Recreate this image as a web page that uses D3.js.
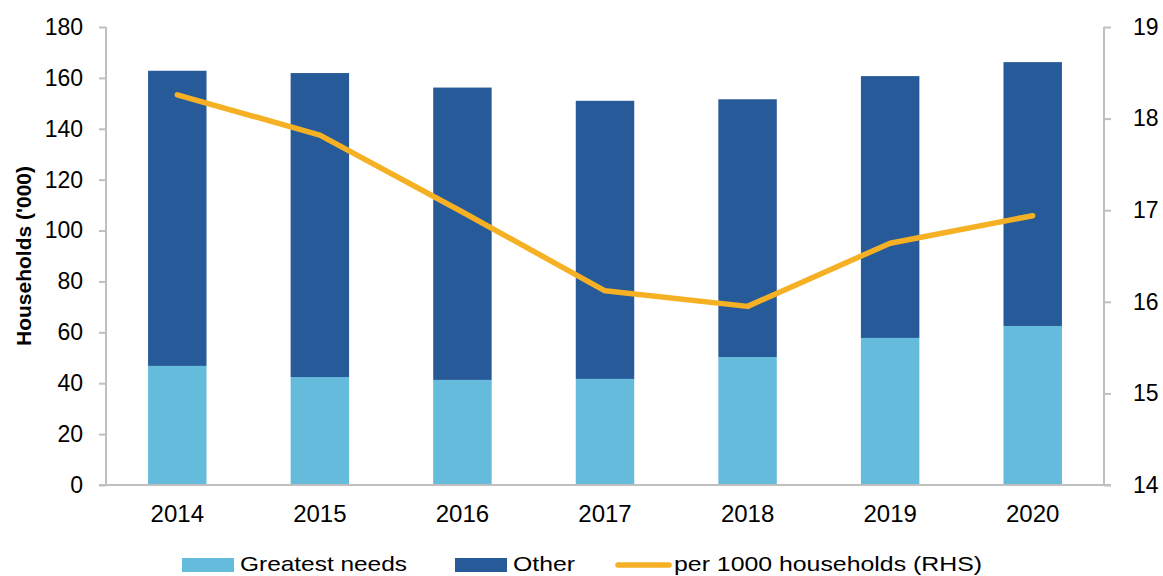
<!DOCTYPE html>
<html>
<head>
<meta charset="utf-8">
<script src="https://cdn.jsdelivr.net/npm/d3@7"></script>
<style>
  body { margin: 0; background: #fff; }
  text { font-family: "Liberation Sans", Arial, sans-serif; fill: #000; }
</style>
</head>
<body>
<div id="chart"></div>
<script>
// Data
const years = ["2014", "2015", "2016", "2017", "2018", "2019", "2020"];
const greatestNeeds = [46.8, 42.4, 41.3, 41.7, 50.3, 57.8, 62.5];
const totals = [162.8, 161.9, 156.2, 151.0, 151.6, 160.7, 166.2];
const other = totals.map((t, i) => t - greatestNeeds[i]);
const per1000 = [18.26, 17.82, 16.98, 16.12, 15.95, 16.64, 16.94];
const leftTicks = [0, 20, 40, 60, 80, 100, 120, 140, 160, 180];
const rightTicks = [14, 15, 16, 17, 18, 19];

const width = 1163;
const height = 576;
const margin = { top: 27, right: 59, bottom: 91, left: 106 };

const svg = d3
  .select("#chart")
  .append("svg")
  .attr("width", width)
  .attr("height", height);

const x = d3
  .scaleBand()
  .domain(years)
  .range([margin.left, width - margin.right])
  .padding(0);

const y = d3
  .scaleLinear()
  .domain([0, 180])
  .range([height - margin.bottom, margin.top]);

const y2 = d3
  .scaleLinear()
  .domain([14, 19])
  .range([height - margin.bottom, margin.top]);

const barW = x.bandwidth() * 0.41;
const cx = (d) => x(d) + x.bandwidth() / 2;

// Stacked bars
const stackData = years.map((yr, i) => ({
  year: yr,
  greatest: greatestNeeds[i],
  other: other[i],
}));
const series = d3.stack().keys(["greatest", "other"])(stackData);
const colors = { greatest: "#65bbdb", other: "#275a98" };

svg
  .selectAll("g.layer")
  .data(series)
  .enter()
  .append("g")
  .attr("class", "layer")
  .attr("fill", (s) => colors[s.key])
  .selectAll("rect")
  .data((s) => s)
  .enter()
  .append("rect")
  .attr("x", (d) => cx(d.data.year) - barW / 2)
  .attr("width", barW)
  .attr("y", (d) => y(d[1]))
  .attr("height", (d) => y(d[0]) - y(d[1]));

// Axes
const axisColor = "#bfbfbf";

const leftAxis = svg
  .append("g")
  .attr("transform", `translate(${margin.left},0)`)
  .call(d3.axisLeft(y).tickValues(leftTicks).tickSize(7).tickPadding(16));

const rightAxis = svg
  .append("g")
  .attr("transform", `translate(${width - margin.right},0)`)
  .call(
    d3.axisRight(y2).tickValues(rightTicks).tickSize(7).tickPadding(22)
      .tickFormat(d3.format("d"))
  );

const bottomAxis = svg
  .append("g")
  .attr("transform", `translate(0,${height - margin.bottom})`)
  .call(d3.axisBottom(x).tickSize(0).tickPadding(20));

[leftAxis, rightAxis, bottomAxis].forEach((g) => {
  g.selectAll("path.domain").attr("stroke", axisColor).attr("stroke-width", 2);
  g.selectAll(".tick line").attr("stroke", axisColor).attr("stroke-width", 2);
  g.selectAll(".tick text")
    .style("font-family", "'Liberation Sans', Arial, sans-serif")
    .style("font-size", "23px")
    .attr("fill", "#000");
});
bottomAxis.selectAll(".tick text").style("font-size", "24px");
leftAxis.select("path.domain").attr("d", `M0,${margin.top}V${height - margin.bottom}`);
rightAxis.select("path.domain").attr("d", `M0,${margin.top}V${height - margin.bottom}`);
bottomAxis
  .select("path.domain")
  .attr("d", `M${margin.left - 7},0H${width - margin.right + 7}`);

// Left axis title
svg
  .append("text")
  .attr("transform", `translate(31,256) rotate(-90)`)
  .attr("text-anchor", "middle")
  .style("font-size", "21px")
  .style("font-weight", "bold")
  .text("Households ('000)");

// Line on right axis
const line = d3
  .line()
  .x((d, i) => cx(years[i]))
  .y((d) => y2(d));

svg
  .append("path")
  .datum(per1000)
  .attr("d", line)
  .attr("fill", "none")
  .attr("stroke", "#f5b024")
  .attr("stroke-width", 5.5)
  .attr("stroke-linecap", "round")
  .attr("stroke-linejoin", "round");

// Legend
const legend = svg.append("g").attr("transform", "translate(0,564)");
const legendItems = [
  { label: "Greatest needs", color: colors.greatest, type: "rect", x: 182, w: 167 },
  { label: "Other", color: colors.other, type: "rect", x: 455, w: 62 },
  { label: "per 1000 households (RHS)", color: "#f5b024", type: "line", x: 616, w: 308 },
];

legendItems.forEach((it) => {
  if (it.type === "rect") {
    legend
      .append("rect")
      .attr("x", it.x)
      .attr("y", -6)
      .attr("width", 52)
      .attr("height", 14)
      .attr("fill", it.color);
  } else {
    legend
      .append("line")
      .attr("x1", it.x + 2)
      .attr("x2", it.x + 53)
      .attr("y1", 1)
      .attr("y2", 1)
      .attr("stroke", it.color)
      .attr("stroke-width", 5.5)
      .attr("stroke-linecap", "round");
  }
  legend
    .append("text")
    .attr("x", it.x + 58)
    .attr("y", 7)
    .attr("textLength", it.w)
    .attr("lengthAdjust", "spacingAndGlyphs")
    .style("font-size", "21px")
    .text(it.label);
});
</script>
</body>
</html>
